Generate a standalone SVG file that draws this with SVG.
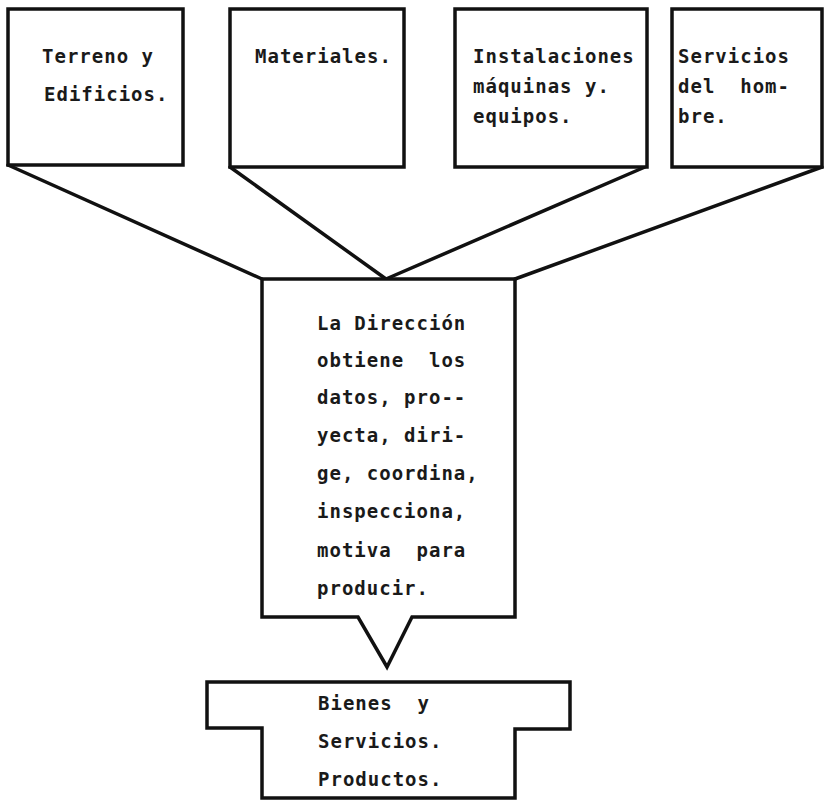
<svg xmlns="http://www.w3.org/2000/svg" width="828" height="801" viewBox="0 0 828 801">
<style>
.sh{fill:#fff;stroke:#111;stroke-width:3.5;stroke-linejoin:miter}
.ln{fill:none;stroke:#111;stroke-width:3.5;stroke-linecap:round}
text{font-family:"DejaVu Sans Mono","Liberation Mono",monospace;font-weight:bold;font-size:19px;letter-spacing:1px;fill:#1a1a1a}
</style>
<rect width="828" height="801" fill="#fff"/>
<g id="connectors">
<line class="ln" x1="8" y1="165" x2="262" y2="279"/>
<line class="ln" x1="230" y1="167" x2="386" y2="279"/>
<line class="ln" x1="386" y1="279" x2="645" y2="167"/>
<line class="ln" x1="515" y1="279" x2="822" y2="167"/>
</g>
<g id="terreno">
<rect class="sh" x="8" y="9" width="175" height="156"/>
<text x="42" y="63">Terreno y</text>
<text x="44" y="101">Edificios.</text>
</g>
<g id="materiales">
<rect class="sh" x="230" y="9" width="174" height="158"/>
<text x="255" y="63">Materiales.</text>
</g>
<g id="instalaciones">
<rect class="sh" x="455" y="9" width="192" height="158"/>
<text x="473" y="63">Instalaciones</text>
<text x="473" y="93">máquinas y.</text>
<text x="473" y="123">equipos.</text>
</g>
<g id="servicios">
<rect class="sh" x="672" y="9" width="150" height="158"/>
<text x="678" y="63">Servicios</text>
<text x="678" y="93" xml:space="preserve">del  hom-</text>
<text x="678" y="123">bre.</text>
</g>
<g id="direccion">
<path class="sh" d="M262,279 H515 V617 H412 L387,667 L358,617 H262 Z"/>
<text x="317" y="330">La Dirección</text>
<text x="317" y="367" xml:space="preserve">obtiene  los</text>
<text x="317" y="404">datos, pro--</text>
<text x="317" y="442">yecta, diri-</text>
<text x="317" y="480">ge, coordina,</text>
<text x="317" y="518">inspecciona,</text>
<text x="317" y="557" xml:space="preserve">motiva  para</text>
<text x="317" y="595">producir.</text>
</g>
<g id="bienes">
<path class="sh" d="M207,682 H570 V729 H515 V798 H262 V728 H207 Z"/>
<text x="318" y="710" xml:space="preserve">Bienes  y</text>
<text x="318" y="748">Servicios.</text>
<text x="318" y="786">Productos.</text>
</g>
</svg>
